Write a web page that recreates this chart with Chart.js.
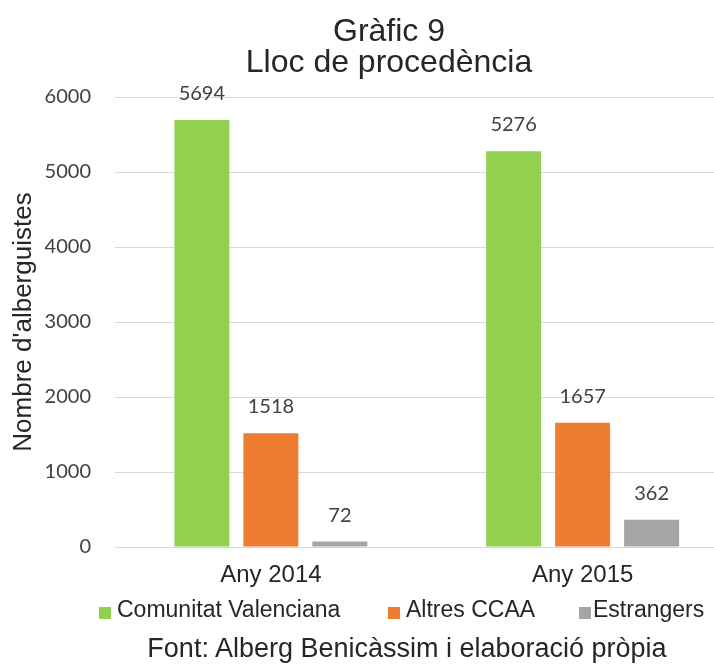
<!DOCTYPE html>
<html>
<head>
<meta charset="utf-8">
<script src="https://cdn.jsdelivr.net/npm/chart.js@4.4.1/dist/chart.umd.min.js"></script>
<style>
  html, body { margin: 0; padding: 0; background: #fff; }
  #wrap { position: relative; width: 714px; height: 665px; overflow: hidden; background: #fff; }
  #c { position: absolute; left: 0; top: 0; }
  .txt { position: absolute; font-family: "Liberation Sans", Arial, sans-serif; color: #262626; white-space: nowrap; }
  #title { left: 189px; width: 400px; top: 15px; text-align: center; font-size: 32px; line-height: 31px; }
  #source { left: 57px; width: 700px; top: 635px; text-align: center; font-size: 27px; line-height: 27px; color: #262626; }
  .leg { position: absolute; top: 598px; font-size: 23px; line-height: 23px; font-family: "Liberation Sans", Arial, sans-serif; color: #262626; white-space: nowrap; }
  .leg i { position: absolute; left: 0; top: 9px; width: 12px; height: 12px; }
  .leg span { position: absolute; top: 0; }
</style>
</head>
<body>
<div id="wrap">
  <canvas id="c" width="745" height="665"></canvas>
  <div id="title" class="txt"></div>
  <div id="legend"></div>
  <div id="source" class="txt"></div>
</div>
<script>
// ---- data ----
const titleLines = ["Gràfic 9", "Lloc de procedència"];
const categories = ["Any 2014", "Any 2015"];
const seriesNames = ["Comunitat Valenciana", "Altres CCAA", "Estrangers"];
const comunitatValenciana = [5694, 5276];
const altresCCAA = [1518, 1657];
const estrangers = [72, 362];
const yTicks = [0, 1000, 2000, 3000, 4000, 5000, 6000];
const yAxisTitle = "Nombre d'alberguistes";
const sourceText = "Font: Alberg Benicàssim i elaboració pròpia";

// ---- styles ----
const colors = ["#92D050", "#ED7D31", "#A5A5A5"];
const legendLeft = [99, 388, 579];
const textColor = "#404040";

document.getElementById('title').innerHTML = titleLines.join('<br>');
document.getElementById('source').textContent = sourceText;

const seriesValues = [comunitatValenciana, altresCCAA, estrangers];
const legendEl = document.getElementById('legend');
seriesNames.forEach((n, i) => {
  const d = document.createElement('div');
  d.className = 'leg';
  d.style.left = legendLeft[i] + 'px';
  const sw = document.createElement('i');
  sw.style.background = colors[i];
  const sp = document.createElement('span');
  sp.style.left = (i === 2 ? 14 : 18) + 'px';
  sp.textContent = n;
  d.appendChild(sw); d.appendChild(sp);
  legendEl.appendChild(d);
});

const valueLabels = {
  id: 'valueLabels',
  afterDatasetsDraw(chart) {
    const ctx = chart.ctx;
    ctx.save();
    ctx.font = '20px Lato, "Open Sans", sans-serif';
    ctx.fillStyle = textColor;
    ctx.textAlign = 'center';
    ctx.textBaseline = 'alphabetic';
    chart.data.datasets.forEach((ds, di) => {
      const meta = chart.getDatasetMeta(di);
      meta.data.forEach((el, i) => {
        ctx.fillText(String(ds.data[i]), el.x, el.y - 20);
      });
    });
    ctx.restore();
  }
};

new Chart(document.getElementById('c'), {
  type: 'bar',
  data: {
    labels: categories,
    datasets: seriesNames.map((n, i) => ({
      label: n,
      data: seriesValues[i],
      backgroundColor: colors[i],
      borderWidth: 0,
      categoryPercentage: 0.664,
      barPercentage: 0.797
    }))
  },
  options: {
    responsive: false,
    animation: false,
    devicePixelRatio: 1,
    layout: { padding: { top: 97, right: 6.5, bottom: 0, left: 0 } },
    plugins: {
      legend: { display: false },
      title: { display: false },
      tooltip: { enabled: false }
    },
    scales: {
      x: {
        grid: { display: false, drawTicks: false },
        border: { display: true, color: '#d9d9d9' },
        ticks: {
          color: '#262626',
          padding: 14,
          font: { family: '"Liberation Sans", Arial, sans-serif', size: 24 }
        },
        afterFit(scale) { scale.height = 118; }
      },
      y: {
        min: 0, max: 6000,
        afterBuildTicks(scale) { scale.ticks = yTicks.map(v => ({ value: v })); },
        grid: { color: '#d9d9d9', drawTicks: false },
        border: { display: false },
        ticks: {
          color: textColor,
          padding: 24,
          font: { family: 'Lato, "Open Sans", sans-serif', size: 20 },
          callback: (v) => String(v)
        },
        title: {
          display: true,
          text: yAxisTitle,
          color: '#262626',
          padding: { top: 8, bottom: 0 },
          font: { family: '"Liberation Sans", Arial, sans-serif', size: 26 }
        },
        afterFit(scale) { scale.width = 115; }
      }
    }
  },
  plugins: [valueLabels]
});
</script>
</body>
</html>
